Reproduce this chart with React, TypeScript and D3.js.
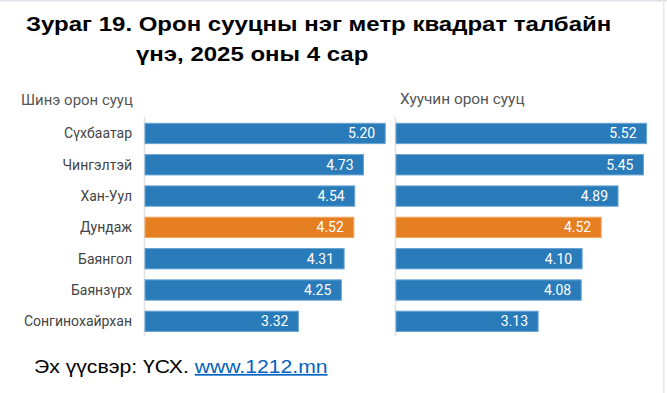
import React from 'react';
import * as d3 from 'd3';

// Districts (same order for both panels)
const districts = ['Сүхбаатар', 'Чингэлтэй', 'Хан-Уул', 'Дундаж', 'Баянгол', 'Баянзүрх', 'Сонгинохайрхан'];
const newPrices = [5.2, 4.73, 4.54, 4.52, 4.31, 4.25, 3.32];
const oldPrices = [5.52, 5.45, 4.89, 4.52, 4.1, 4.08, 3.13];
const highlight = 'Дундаж';

const W = 667;
const H = 393;
const BLUE = '#2a7bb9';
const ORANGE = '#e67e22';
const ARIAL = "'Liberation Sans', Arial, sans-serif";

const App = () => {
  const y = d3.scaleBand<string>()
    .domain(districts)
    .range([117.8, 337])
    .paddingInner(0.35)
    .paddingOuter(0.175);

  // each panel has its own x scale
  const xLeft = d3.scaleLinear().domain([0, 6]).range([145, 145 + 6 * 46.2]);
  const xRight = d3.scaleLinear().domain([0, 6]).range([396, 396 + 6 * 45.4]);

  const panel = (vals: number[], x: d3.ScaleLinear<number, number>, key: string) => (
    <g key={key}>
      <line x1={x(0) - 0.5} x2={x(0) - 0.5} y1={117} y2={336} stroke="#e2e2e2" strokeWidth={1.5} />
      {vals.map((v, i) => {
        const cat = districts[i];
        const col = cat === highlight ? ORANGE : BLUE;
        return (
          <g key={cat}>
            <rect
              x={x(0)}
              y={y(cat)}
              width={x(v) - x(0)}
              height={y.bandwidth()}
              fill={col}
              stroke={cat === highlight ? '#f0a766' : '#6aa5d4'}
              strokeWidth={1}
            />
            <text
              x={x(v) - 10}
              y={(y(cat) ?? 0) + y.bandwidth() / 2}
              dy="0.36em"
              textAnchor="end"
              fill="#fff"
              fontSize={14}
              fontFamily="Roboto, sans-serif"
            >
              {v.toFixed(2)}
            </text>
          </g>
        );
      })}
    </g>
  );

  return (
    <div style={{ position: 'absolute', left: 0, top: 0 }}>
      <svg width={W} height={H} style={{ display: 'block', background: '#fff' }}>
        {/* faint frame at top and right */}
        <rect x={0} y={0} width={W} height={1.5} fill="#dde3ea" />
        <rect x={663} y={0} width={1.5} height={H} fill="#e4e8ee" />

        {/* title, slightly stretched horizontally like the source image */}
        <g fontFamily={ARIAL} fontWeight="bold" fontSize={20} fill="#000">
          <g transform="translate(26,31) scale(1.2,1)">
            <text x={0} y={0}>Зураг 19. Орон сууцны нэг метр квадрат талбайн</text>
          </g>
          <g transform="translate(136,61) scale(1.2,1)">
            <text x={0} y={0}>үнэ, 2025 оны 4 сар</text>
          </g>
        </g>

        <g fontFamily="Roboto, sans-serif" fontSize={14} fill="#555">
          <g transform="translate(21,105) scale(1.07,1)">
            <text x={0} y={0}>Шинэ орон сууц</text>
          </g>
          <g transform="translate(400,104) scale(1.1,1)">
            <text x={0} y={0}>Хуучин орон сууц</text>
          </g>
        </g>

        {districts.map(d => (
          <text
            key={d}
            x={132}
            y={(y(d) ?? 0) + y.bandwidth() / 2}
            dy="0.36em"
            textAnchor="end"
            fontFamily="Roboto, sans-serif"
            fontSize={14}
            fill="#444"
          >
            {d}
          </text>
        ))}

        {panel(newPrices, xLeft, 'left')}
        {panel(oldPrices, xRight, 'right')}

        <g transform="translate(34,373) scale(1.21,1)">
          <text x={0} y={0} fontFamily={ARIAL} fontSize={17.5} fill="#000">
            Эх үүсвэр: ҮСХ.{' '}
            <tspan fill="#0563c1" textDecoration="underline">www.1212.mn</tspan>
          </text>
        </g>
      </svg>
    </div>
  );
};

export default App;
